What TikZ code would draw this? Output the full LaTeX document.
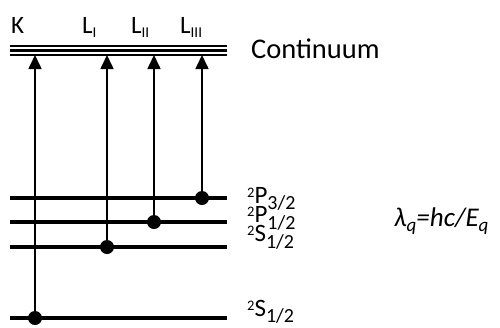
\documentclass[tikz,border=0pt]{standalone}
\usepackage{fontspec}
\setmainfont{Carlito}
\usetikzlibrary{arrows.meta}
% level-label sub/superscripts
\newcommand{\lvsub}[1]{\raisebox{-6.5pt}[0pt][0pt]{\fontsize{20}{20}\selectfont #1}}
\newcommand{\lvsup}[1]{\raisebox{6pt}[0pt][0pt]{\fontsize{14.5}{14.5}\selectfont #1}}
% shell subscripts
\newcommand{\shsub}[1]{\raisebox{-4pt}{\fontsize{15}{15}\selectfont #1}}
% formula subscripts
\newcommand{\fmsub}[1]{\raisebox{-5pt}{\fontsize{19}{19}\selectfont #1}}
\begin{document}
\begin{tikzpicture}[x=1pt,y=-1pt,
  level/.style={line width=3.2pt},
  trans/.style={line width=1.6pt, -{Triangle[length=14pt,width=13pt]}},
  dot/.style={circle, fill=black, inner sep=0pt, minimum size=14pt},
  lbl/.style={anchor=base west, inner sep=0pt},
  shell/.style={lbl, font=\fontsize{25}{25}\selectfont},
  lvl/.style={lbl, font=\fontsize{25}{25}\selectfont}]
\useasboundingbox (0,0) rectangle (500,327);
% continuum
\coordinate (c1a) at (10,46); \coordinate (c1b) at (227,46);
\coordinate (c2a) at (10,50.5); \coordinate (c2b) at (227,50.5);
\coordinate (c3a) at (10,55); \coordinate (c3b) at (227,55);
\draw[line width=1.6pt] (c1a) -- (c1b);
\draw[line width=3.6pt] (c2a) -- (c2b);
\draw[line width=1.6pt] (c3a) -- (c3b);
% levels
\coordinate (l1a) at (10,198); \coordinate (l1b) at (227,198);
\coordinate (l2a) at (10,222); \coordinate (l2b) at (227,222);
\coordinate (l3a) at (10,247); \coordinate (l3b) at (227,247);
\coordinate (l4a) at (10,318); \coordinate (l4b) at (227,318);
\draw[level] (l1a) -- (l1b);
\draw[level] (l2a) -- (l2b);
\draw[level] (l3a) -- (l3b);
\draw[level] (l4a) -- (l4b);
% dots
\node[dot] (dK) at (35,318) {};
\node[dot] (dL1) at (107,247) {};
\node[dot] (dL2) at (154,222) {};
\node[dot] (dL3) at (202,198) {};
\coordinate (tK) at (35,55);
\coordinate (tL1) at (107,55);
\coordinate (tL2) at (154,55);
\coordinate (tL3) at (202,55);
\draw[trans] (dK.center) -- (tK);
\draw[trans] (dL1.center) -- (tL1);
\draw[trans] (dL2.center) -- (tL2);
\draw[trans] (dL3.center) -- (tL3);
% top labels
\node[shell] (K) at (11,33) {K};
\node[shell] (LI) at (82,33) {L\shsub{I}};
\node[shell] (LII) at (131,33) {L\shsub{II}};
\node[shell] (LIII) at (180,33) {L\shsub{III}};
\node[lbl, font=\fontsize{28.5}{28.5}\selectfont] (cont) at (251,58) {Continuum};
% level labels
\node[lvl] (p32) at (247,203) {\lvsup{2}P\lvsub{3/2}};
\node[lvl] (p12) at (247,222.5) {\lvsup{2}P\lvsub{1/2}};
\node[lvl] (s12) at (247,241.5) {\lvsup{2}S\lvsub{1/2}};
\node[lvl] (s12b) at (247,316) {\lvsup{2}S\lvsub{1/2}};
% formula
\node[lbl, font=\fontsize{27}{27}\selectfont\itshape] (lam) at (394,226) {λ\fmsub{q}=hc/E\fmsub{q}};
\end{tikzpicture}
\end{document}
